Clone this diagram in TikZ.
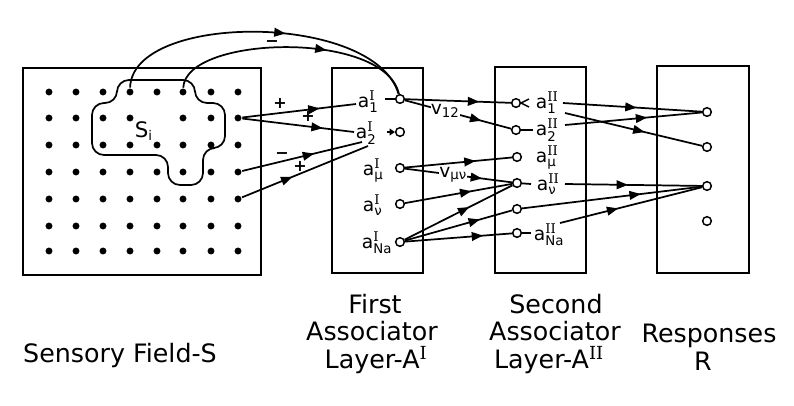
\documentclass[tikz,border=0pt]{standalone}
\usepackage{fontspec}
\setmainfont{DejaVu Sans}
\newfontfamily\romn{DejaVu Serif}
\usepackage{amsmath}
\usetikzlibrary{arrows.meta,decorations.markings}
\newcommand\scr[1]{\text{\fontsize{10}{10}\selectfont #1}}
\newcommand\alab[2]{a$^{\scr{\romn #1}}_{\scr{#2}}$}
\newcommand\capsup[1]{$^{\text{\fontsize{13.5}{14}\selectfont\romn #1}}$}
\tikzset{
  tri/.tip={Triangle[length=8.5pt,width=6.5pt]},
  frame/.style={draw,line width=1.3pt},
  wire/.style={line width=1.3pt},
  dot/.style={circle,fill,inner sep=0pt,minimum size=5.2pt},
  term/.style={circle,draw,fill=white,inner sep=0pt,minimum size=6.5pt,line width=1.1pt},
  marr/.style={postaction={decorate},decoration={markings,mark=at position #1 with {\arrow{tri}}}},
  lab/.style={font=\fontsize{14}{16}\selectfont,inner sep=0pt},
  sgn/.style={font=\fontsize{12}{14}\selectfont\bfseries,inner sep=0pt},
  captxt/.style={font=\fontsize{19}{21}\selectfont,inner sep=0pt,anchor=base}
}
\begin{document}
\begin{tikzpicture}[x=0.75pt,y=-0.75pt,line width=1.3pt]
\useasboundingbox (0,0) rectangle (794,405);
% frames
\draw[frame] (23,68) rectangle (261,275);
\draw[frame] (332,68) rectangle (423,273);
\draw[frame] (495,67) rectangle (586,273);
\draw[frame] (657,66) rectangle (749,273);
% sensory dots
\foreach \c [count=\ci] in {49,76,103,130,157,183,211,238}
  \foreach \r [count=\ri] in {92,118,145,172,199,226,251}
    {\ifnum\numexpr\ri*10+\ci\relax=25\relax\else\node[dot] (d\ri\ci) at (\c,\r) {};\fi}
% S_i region
\draw[wire,rounded corners=9pt] (117,80) -- (195,80) -- (195,103) -- (225,103) -- (225,148)
  -- (203,148) -- (203,185) -- (168,185) -- (168,155) -- (92,155) -- (92,103) -- (117,103) -- cycle;
\node[lab,anchor=base west] (si) at (134,137) {\fontsize{16}{18}\selectfont S$_{\scr{i}}$};
% first layer terminals and labels
\node[term] (t11) at (400,99) {};
\node[term] (t12) at (400,132) {};
\node[term] (t13) at (400,168) {};
\node[term] (t14) at (400,204) {};
\node[term] (t15) at (400,242) {};
\node[lab,anchor=base west] (l11) at (357,107) {\alab{I}{1}};
\node[lab,anchor=base west] (l12) at (355,138) {\alab{I}{2}};
\node[lab,anchor=base west] (l13) at (362,175) {\alab{I}{μ}};
\node[lab,anchor=base west] (l14) at (362,211) {\alab{I}{ν}};
\node[lab,anchor=base west] (l15) at (361,248) {\alab{I}{Na}};
\coordinate (c11) at (385,99);
\coordinate (c12) at (387,132);
\draw[wire] (c11) -- (t11);
\draw[wire,-{Triangle[length=4pt,width=5pt]}] (c12) -- (t12);
% second layer terminals and labels
\node[term] (t21) at (516,103) {};
\node[term] (t22) at (516,130) {};
\node[term] (t23) at (517,157) {};
\node[term] (t24) at (517,183) {};
\node[term] (t25) at (517,209) {};
\node[term] (t26) at (517,233) {};
\node[lab,anchor=base west] (l21) at (535,108) {\alab{II}{1}};
\node[lab,anchor=base west] (l22) at (535,135) {\alab{II}{2}};
\node[lab,anchor=base west] (l23) at (535,162) {\alab{II}{μ}};
\node[lab,anchor=base west] (l24) at (536,190) {\alab{II}{ν}};
\node[lab,anchor=base west] (l26) at (533,240) {\alab{II}{Na}};
\coordinate (k21a) at (529,99);
\coordinate (k21b) at (529,107);
\coordinate (k22) at (533,130);
\coordinate (k24) at (531,184);
\coordinate (k26) at (531,233);
\draw[line width=1.1pt] (k21a) -- (t21.east) -- (k21b);
\draw[wire] (t22) -- (k22);
\draw[wire] (t24) -- (k24);
\draw[wire] (t26) -- (k26);
% response terminals
\node[term] (r1) at (707,112) {};
\node[term] (r2) at (707,147) {};
\node[term] (r3) at (707,186) {};
\node[term] (r4) at (707,221) {};
% sensory -> first layer
\coordinate (e1) at (356,104);
\coordinate (e2) at (354,132);
\coordinate (e3) at (362,142);
\coordinate (e4) at (368,146);
\draw[wire,marr=0.68] (d28) -- (e1);
\draw[wire,marr=0.72] (d28) -- (e2);
\draw[wire,marr=0.6] (d48) -- (e3);
\draw[wire,marr=0.4] (d58) -- (e4);
\node[sgn] (p1) at (280,103) {+};
\node[sgn] (p2) at (308,116) {+};
\node[sgn] (m1) at (282,156) {−};
\node[sgn] (p3) at (300,166) {+};
\draw[wire,marr=0.57] (d14) .. controls (132,12) and (375,12) .. (t11);
\draw[wire,marr=0.64] (d16) .. controls (186,35) and (385,30) .. (t11);
\node[sgn] (m2) at (272,44) {−};
% first -> second layer
\draw[wire,marr=0.7] (t11) -- (t21);
\draw[wire,marr=0.72] (t11) -- node[pos=0.38,fill=white,inner sep=1.5pt,lab] (v12) {v$_{\scr{12}}$} (t22);
\draw[wire,marr=0.66] (t13) -- (t23);
\draw[wire,marr=0.72] (t13) -- node[pos=0.45,fill=white,inner sep=1.5pt,lab] (vmn) {v$_{\scr{μν}}$} (t24);
\draw[wire,marr=0.62] (t14) -- (t24);
\draw[wire,marr=0.6] (t15) -- (t24);
\draw[wire,marr=0.7] (t15) -- (t25);
\draw[wire,marr=0.73] (t15) -- (t26);
% second layer -> responses
\coordinate (o1) at (563,103);
\coordinate (o2) at (565,113);
\coordinate (o3) at (565,125);
\coordinate (o4) at (565,184);
\coordinate (o6) at (560,223);
\draw[wire,marr=0.53] (o1) -- (r1);
\draw[wire,marr=0.58] (o2) -- (r2);
\draw[wire,marr=0.6] (o3) -- (r1);
\draw[wire,marr=0.46] (o4) -- (r3);
\draw[wire,marr=0.66] (t25) -- (r3);
\draw[wire,marr=0.41] (o6) -- (r3);
% captions
\node[captxt] (cs) at (120,362) {Sensory Field-S};
\node[captxt] (f1) at (375,313) {First};
\node[captxt] (f2) at (372,340) {Associator};
\node[captxt] (f3) at (376,368) {Layer-A\capsup{I}};
\node[captxt] (s1) at (556,313) {Second};
\node[captxt] (s2) at (555,340) {Associator};
\node[captxt] (s3) at (549,368) {Layer-A\capsup{II}};
\node[captxt] (q1) at (709,342) {Responses};
\node[captxt] (q2) at (703,370) {R};
\end{tikzpicture}
\end{document}
